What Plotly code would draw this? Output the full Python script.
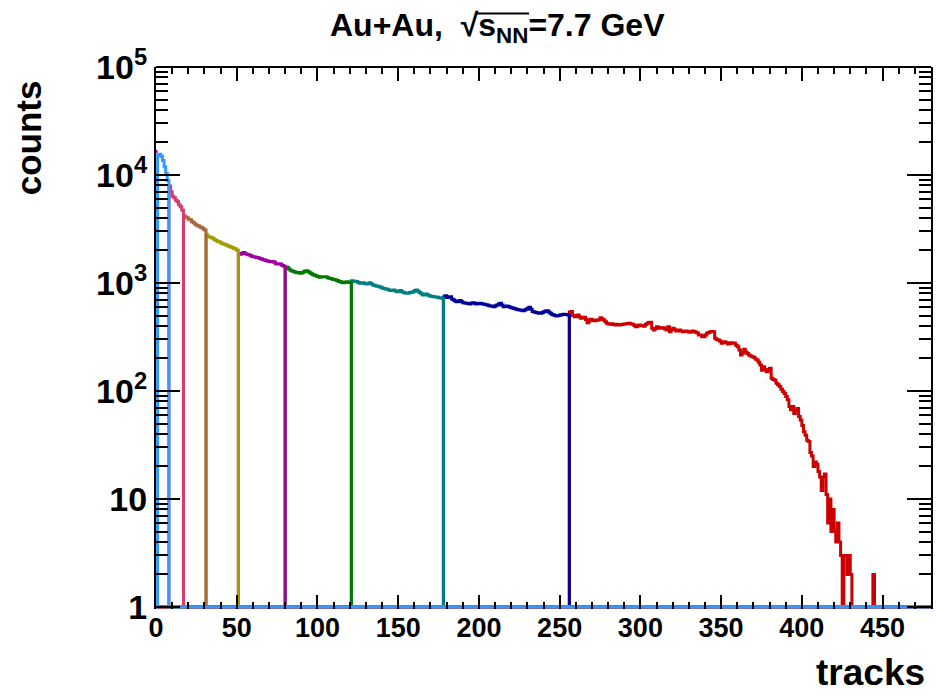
import numpy as np
import plotly.graph_objects as go

# ---------------------------------------------------------------
# Track-multiplicity distribution, Au+Au at sqrt(s_NN) = 7.7 GeV
# 1-track bins from 0 to 480, split into centrality classes
# ---------------------------------------------------------------
X_MAX = 480
N_BINS = 480

# first bin [0, 1)
counts_bin0 = 16500

# class lower edges (tracks); each class runs up to the next edge
class_start = [1, 8, 17, 31, 51, 80, 121, 178, 256]

counts_1_8 = [15300, 15600, 14900, 13600, 11900, 10300, 8900]

counts_8_17 = [7900, 7000, 6350, 6150, 5850, 5650, 5300, 5080, 4720]

counts_17_31 = [4200, 4080, 4010, 3900, 3850, 3700, 3620, 3500, 3420, 3370,
                3300, 3260, 3160, 3090]

counts_31_51 = [2800, 2700, 2660, 2630, 2590, 2510, 2480, 2420, 2400, 2340,
                2310, 2280, 2260, 2210, 2190, 2150, 2130, 2090, 2060, 2010]

counts_51_80 = [1880, 1850, 1890, 1915, 1870, 1850, 1830, 1810, 1770, 1750,
                1740, 1720, 1710, 1690, 1670, 1640, 1630, 1610, 1600, 1580,
                1570, 1580, 1560, 1510, 1500, 1505, 1490, 1450, 1430]

counts_80_121 = [1410, 1400, 1350, 1310, 1290, 1275, 1260, 1245, 1250, 1230,
                 1240, 1265, 1290, 1300, 1270, 1245, 1220, 1190, 1180, 1160,
                 1150, 1130, 1135, 1145, 1140, 1145, 1120, 1105, 1100, 1085,
                 1080, 1065, 1055, 1030, 1025, 1010, 1005, 1020, 1025, 1010,
                 1015]

counts_121_178 = [1050, 1045, 1035, 1030, 1010, 995, 1000, 1005, 990, 980,
                  990, 1005, 985, 960, 955, 940, 935, 925, 915, 895,
                  890, 880, 875, 860, 850, 855, 862, 845, 830, 840,
                  850, 830, 815, 810, 803, 808, 815, 822, 832, 850,
                  862, 840, 815, 795, 775, 780, 792, 775, 760, 755,
                  748, 745, 740, 738, 730, 725, 722]

counts_178_256 = [740, 760, 735, 745, 745, 710, 695, 680, 670, 680,
                  688, 670, 658, 652, 650, 645, 640, 648, 656, 650,
                  640, 642, 648, 645, 638, 635, 628, 624, 615, 612,
                  608, 604, 615, 626, 640, 650, 625, 604, 610, 614,
                  605, 596, 590, 584, 578, 572, 566, 562, 558, 554,
                  562, 572, 585, 596, 570, 545, 538, 532, 530, 526,
                  524, 532, 542, 550, 553, 538, 524, 512, 505, 498,
                  495, 500, 505, 509, 513, 511, 510, 506]

counts_256_480 = [540, 545, 500, 488, 495, 505, 485, 471, 478, 481,
                  460, 429, 445, 461, 455, 448, 450, 454, 458, 477,
                  465, 454, 438, 424, 417, 415, 420, 412, 408, 415,
                  410, 408, 412, 415, 418, 420, 422, 424, 418, 415,
                  405, 394, 400, 408, 405, 403, 398, 412, 424, 430,
                  433, 381, 367, 380, 394, 388, 381, 384, 386, 375,
                  367, 394, 354, 368, 381, 370, 359, 362, 367, 360,
                  354, 357, 359, 355, 350, 352, 359, 355, 350, 345,
                  330, 330, 318, 318, 330, 342, 348, 354, 356, 354,
                  308, 300, 297, 290, 277, 282, 286, 280, 272, 276,
                  280, 278, 277, 265, 257, 240, 215, 225, 243, 230,
                  223, 215, 211, 208, 205, 198, 194, 185, 174, 156,
                  168, 158, 151, 156, 162, 131, 128, 126, 118, 114,
                  110, 104, 99, 95, 89, 83, 72, 67, 72, 62,
                  66, 69, 58, 54, 48, 42, 39, 35, 34, 27,
                  25, 20, 22, 21, 18, 16, 12, 16, 17, 11,
                  6, 10, 5, 8, 5, 4, 6, 4, 3, 0,
                  3, 3, 2, 3, 2, 0, 0, 0, 0, 0,
                  0, 0, 0, 0, 0, 0, 0, 0, 2]

class_counts = [counts_1_8, counts_8_17, counts_17_31, counts_31_51,
                counts_51_80, counts_80_121, counts_121_178,
                counts_178_256, counts_256_480]

class_colors = ["#3399ff", "#d63c6e", "#a8683c", "#a39e00", "#a000a0",
                "#007a00", "#008080", "#000099", "#cc0000"]

BIN0_COLOR = "#9900cc"

y_tick_vals = [1, 10, 100, 1000, 10000, 100000]
y_tick_text = ["1", "10", "10<sup>2</sup>", "10<sup>3</sup>",
               "10<sup>4</sup>", "10<sup>5</sup>"]
y_minor_vals = [k * 10 ** d for d in range(5) for k in range(2, 10)]
x_tick_vals = list(range(0, 451, 50))

Y_FLOOR = 1.0          # empty bins are drawn on the frame floor (log scale)
FONT = "Liberation Sans"

bin_edges = np.arange(0, X_MAX + 1)


def class_histogram(start, values):
    """Full-range histogram that is empty outside the class."""
    h = np.zeros(N_BINS)
    h[start:start + len(values)] = values
    return h


fig = go.Figure()

# most central class first, most peripheral on top
for start, vals, color in reversed(list(zip(class_start, class_counts, class_colors))):
    h = class_histogram(start, vals)
    y = np.maximum(h, Y_FLOOR)
    y = np.append(y, y[-1])
    fig.add_trace(go.Scatter(
        x=bin_edges, y=y, mode="lines",
        line=dict(color=color, width=3, shape="hv"),
        hoverinfo="skip", showlegend=False))

fig.add_trace(go.Scatter(
    x=[0, 1], y=[counts_bin0, counts_bin0], mode="lines",
    line=dict(color=BIN0_COLOR, width=3),
    hoverinfo="skip", showlegend=False))

# plot area: x 156..933 px, y 67..609 px
L, R, T, B = 156, 3, 67, 87
W, H = 936, 696
plot_w = W - L - R
plot_h = H - T - B
y_lo = -2.0 * 5 / (plot_h - 2.0)   # puts the floor 2 px above the bottom edge

fig.update_layout(
    width=W, height=H,
    margin=dict(l=L, r=R, t=T, b=B),
    plot_bgcolor="white", paper_bgcolor="white",
    showlegend=False,
)

fig.update_xaxes(
    range=[0, X_MAX], showline=False, showgrid=False, zeroline=False,
    ticks="inside", ticklen=14, tickwidth=2, tickcolor="black",
    mirror="ticks", tickmode="array", tickvals=x_tick_vals,
    tickfont=dict(family=FONT, size=27, color="black", weight="bold"),
    minor=dict(ticks="inside", ticklen=7, tickwidth=2, tickcolor="black",
               dtick=10, tick0=0, showgrid=False),
)

fig.update_yaxes(
    type="log", range=[y_lo, 5], showline=True, linewidth=2,
    linecolor="black", mirror="ticks", showgrid=False, zeroline=False,
    ticks="inside", ticklen=24, tickwidth=2, tickcolor="black",
    tickmode="array", tickvals=y_tick_vals, ticktext=y_tick_text,
    tickfont=dict(family=FONT, size=34, color="black", weight="bold"),
    minor=dict(ticks="inside", ticklen=12, tickwidth=2, tickcolor="black",
               tickmode="array", tickvals=y_minor_vals, showgrid=False),
)

# top edge of the frame
fig.add_shape(type="line", xref="paper", yref="paper", x0=0, x1=1, y0=1, y1=1,
              line=dict(color="black", width=2))


def px_x(px):
    return (px - L) / plot_w


def px_y(py):
    return (H - B - py) / plot_h


fig.add_annotation(
    text="Au+Au,  √s<sub>NN</sub>=7.7 GeV",
    xref="paper", yref="paper", x=px_x(498), y=px_y(28),
    xanchor="center", yanchor="middle", showarrow=False,
    font=dict(family=FONT, size=32, color="black", weight="bold"))

# bar of the radical over s_NN
fig.add_shape(type="line", xref="paper", yref="paper",
              x0=px_x(477), x1=px_x(530), y0=px_y(13.5), y1=px_y(13.5),
              line=dict(color="black", width=2))

fig.add_annotation(
    text="counts", textangle=-90,
    xref="paper", yref="paper", x=px_x(28), y=px_y(138),
    xanchor="center", yanchor="middle", showarrow=False,
    font=dict(family=FONT, size=35, color="black", weight="bold"))

fig.add_annotation(
    text="tracks",
    xref="paper", yref="paper", x=px_x(872), y=px_y(672),
    xanchor="center", yanchor="middle", showarrow=False,
    font=dict(family=FONT, size=37, color="black", weight="bold"))

fig.write_html("out.html")
